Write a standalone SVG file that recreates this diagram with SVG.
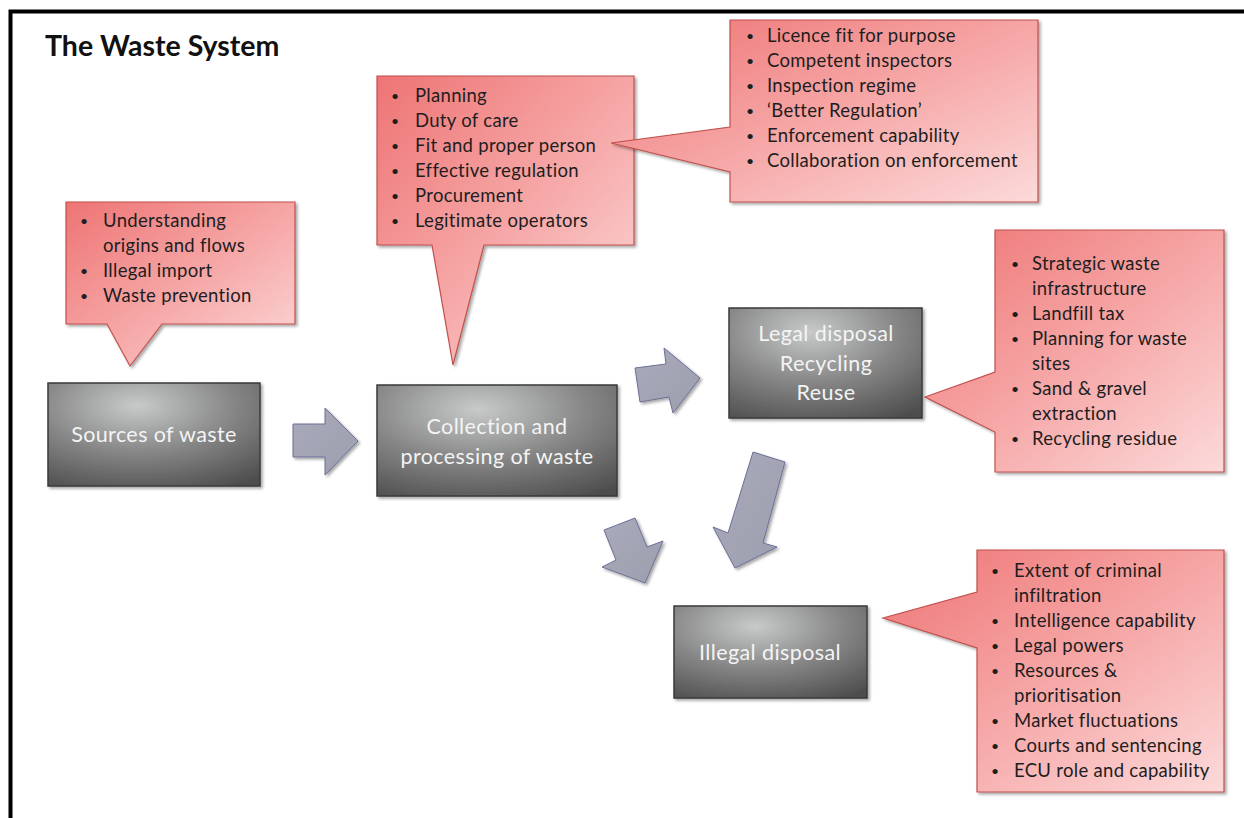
<svg xmlns="http://www.w3.org/2000/svg" width="1244" height="818" viewBox="0 0 1244 818">
<style>
.title{font-family:Lato,"Liberation Sans",sans-serif;font-weight:bold;font-size:28.5px;fill:#111}
.co{fill:url(#pink);stroke:#c0504d;stroke-width:1.2;filter:url(#sh)}
.bx{fill:url(#gray);stroke:#3a3a3a;stroke-width:1.5;filter:url(#sh)}
.bt{font-family:Lato,"Liberation Sans",sans-serif;font-size:18.5px;letter-spacing:0.3px;fill:#1e1e1e}
.bu{font-size:14px;letter-spacing:0}
.lt{font-family:Lato,"Liberation Sans",sans-serif;font-size:21.5px;letter-spacing:0.4px;fill:#f4f4f4;text-anchor:middle}
.ar{fill:url(#arg);stroke:#6e6e98;stroke-width:1;filter:url(#sh)}
</style>
<defs>
<linearGradient id="pink" x1="0" y1="0" x2="1" y2="1">
<stop offset="0" stop-color="#ee7474"/>
<stop offset="0.5" stop-color="#f6a5a5"/>
<stop offset="1" stop-color="#fcdada"/>
</linearGradient>
<radialGradient id="gray" cx="0.42" cy="0.22" r="0.9">
<stop offset="0" stop-color="#c8caca"/>
<stop offset="0.5" stop-color="#878787"/>
<stop offset="1" stop-color="#4e4e4e"/>
</radialGradient>
<linearGradient id="arg" x1="0" y1="0" x2="1" y2="1">
<stop offset="0" stop-color="#a9aabb"/>
<stop offset="1" stop-color="#9c9fae"/>
</linearGradient>
<filter id="sh" x="-10%" y="-10%" width="130%" height="130%">
<feDropShadow dx="2" dy="2" stdDeviation="1.8" flood-color="#000" flood-opacity="0.35"/>
</filter>
</defs>
<rect width="1244" height="818" fill="#fff"/>
<path d="M10.5,818 V11.5 H1244" fill="none" stroke="#000" stroke-width="4"/>
<text class="title" x="45" y="56">The Waste System</text>

<g id="connectors">
<polygon class="ar" points="293,424 325,424 325,408 358,441 325,475 325,457 293,457"/>
<polygon class="ar" points="635,368 666,364 664,348 700,378 673,413 669,397 640,402"/>
<polygon class="ar" points="604,530 635,518 647,547 663,541 645,583 602,567 616,560"/>
<polygon class="ar" points="753,452 785,462 763,543 777,547 735,568 713,527 728,533"/>
</g>

<g id="sources">
<rect class="bx" x="48" y="383" width="212" height="103"/>
<text class="lt" x="154" y="442">Sources of waste</text>
</g>
<g id="collection">
<rect class="bx" x="377" y="385" width="240" height="111"/>
<text class="lt" x="497" y="434">Collection and</text>
<text class="lt" x="497" y="464">processing of waste</text>
</g>
<g id="legal">
<rect class="bx" x="729" y="308" width="193" height="110"/>
<text class="lt" x="826" y="341">Legal disposal</text>
<text class="lt" x="826" y="371">Recycling</text>
<text class="lt" x="826" y="400">Reuse</text>
</g>
<g id="illegal">
<rect class="bx" x="674" y="606" width="193" height="92"/>
<text class="lt" x="770" y="660">Illegal disposal</text>
</g>

<g id="callout-sources">
<path class="co" d="M66,202 H295 V324 H162 L130,366 L107,324 H66 Z"/>
<g class="bt">
<text class="bu" x="80" y="226">•</text><text x="103" y="227">Understanding</text>
<text x="103" y="252">origins and flows</text>
<text class="bu" x="80" y="276">•</text><text x="103" y="277">Illegal import</text>
<text class="bu" x="80" y="301">•</text><text x="103" y="302">Waste prevention</text>
</g>
</g>
<g id="callout-collection">
<path class="co" d="M377,76 H634 V245 H484 L453,365 L432,245 H377 Z"/>
<g class="bt">
<text class="bu" x="391" y="101">•</text><text x="415" y="102">Planning</text>
<text class="bu" x="391" y="126">•</text><text x="415" y="127">Duty of care</text>
<text class="bu" x="391" y="151">•</text><text x="415" y="152">Fit and proper person</text>
<text class="bu" x="391" y="176">•</text><text x="415" y="177">Effective regulation</text>
<text class="bu" x="391" y="201">•</text><text x="415" y="202">Procurement</text>
<text class="bu" x="391" y="226">•</text><text x="415" y="227">Legitimate operators</text>
</g>
</g>
<g id="callout-regulation">
<path class="co" d="M730,20 H1038 V202 H730 V172 L611,143 L730,127 Z"/>
<g class="bt">
<text class="bu" x="746" y="41">•</text><text x="767" y="42">Licence fit for purpose</text>
<text class="bu" x="746" y="66">•</text><text x="767" y="67">Competent inspectors</text>
<text class="bu" x="746" y="91">•</text><text x="767" y="92">Inspection regime</text>
<text class="bu" x="746" y="116">•</text><text x="767" y="117">‘Better Regulation’</text>
<text class="bu" x="746" y="141">•</text><text x="767" y="142">Enforcement capability</text>
<text class="bu" x="746" y="166">•</text><text x="767" y="167">Collaboration on enforcement</text>
</g>
</g>
<g id="callout-legal">
<path class="co" d="M995,230 H1224 V472 H995 V432 L925,397 L995,372 Z"/>
<g class="bt">
<text class="bu" x="1011" y="269">•</text><text x="1032" y="270">Strategic waste</text>
<text x="1032" y="295">infrastructure</text>
<text class="bu" x="1011" y="319">•</text><text x="1032" y="320">Landfill tax</text>
<text class="bu" x="1011" y="344">•</text><text x="1032" y="345">Planning for waste</text>
<text x="1032" y="370">sites</text>
<text class="bu" x="1011" y="394">•</text><text x="1032" y="395">Sand &amp; gravel</text>
<text x="1032" y="420">extraction</text>
<text class="bu" x="1011" y="444">•</text><text x="1032" y="445">Recycling residue</text>
</g>
</g>
<g id="callout-illegal">
<path class="co" d="M977,550 H1224 V792 H977 V648 L883,618 L977,592 Z"/>
<g class="bt">
<text class="bu" x="991" y="576">•</text><text x="1014" y="577">Extent of criminal</text>
<text x="1014" y="602">infiltration</text>
<text class="bu" x="991" y="626">•</text><text x="1014" y="627">Intelligence capability</text>
<text class="bu" x="991" y="651">•</text><text x="1014" y="652">Legal powers</text>
<text class="bu" x="991" y="676">•</text><text x="1014" y="677">Resources &amp;</text>
<text x="1014" y="702">prioritisation</text>
<text class="bu" x="991" y="726">•</text><text x="1014" y="727">Market fluctuations</text>
<text class="bu" x="991" y="751">•</text><text x="1014" y="752">Courts and sentencing</text>
<text class="bu" x="991" y="776">•</text><text x="1014" y="777">ECU role and capability</text>
</g>
</g>
</svg>
